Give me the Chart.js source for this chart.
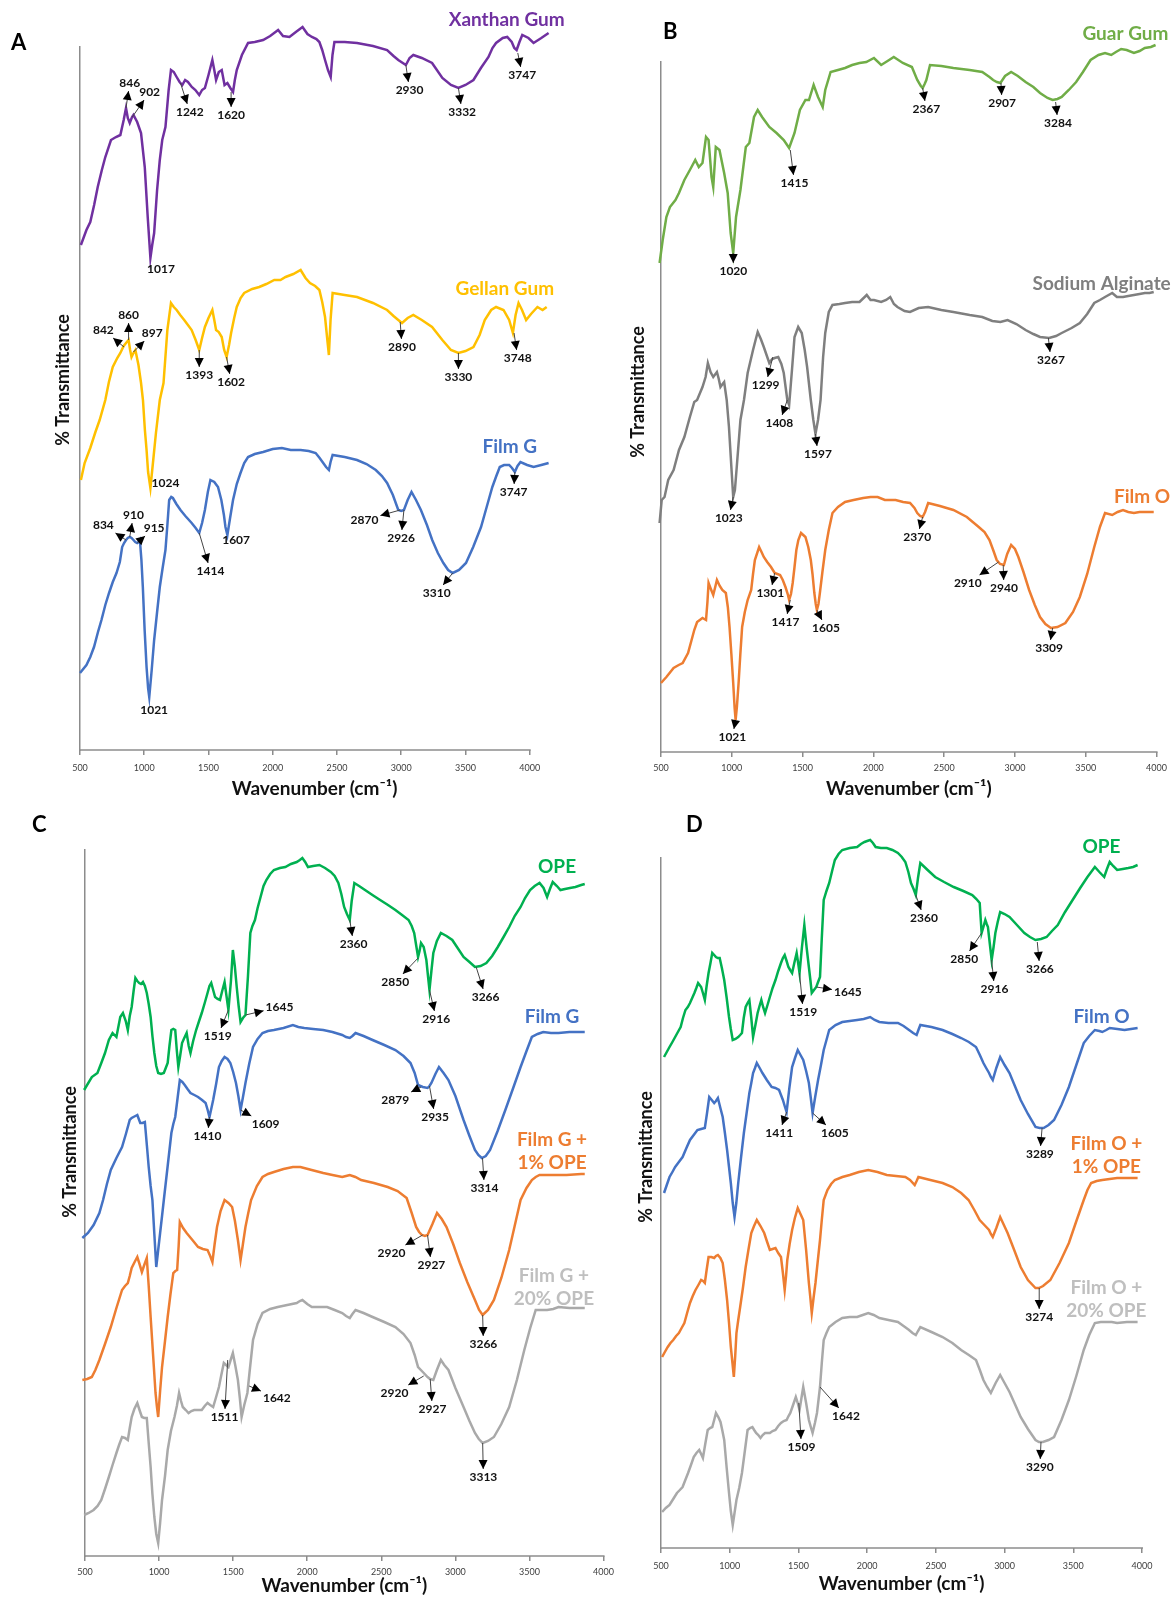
<!DOCTYPE html>
<html>
<head>
<meta charset="utf-8">
<script src="https://cdn.jsdelivr.net/npm/chart.js@4.4.1/dist/chart.umd.min.js"></script>
<style>
  body { margin: 0; background: #fff; }
  #fig { position: relative; width: 1173px; height: 1599px; overflow: hidden; }
  .pan { position: absolute; }
  .tag { position: absolute; font: bold 22px Lato, sans-serif; color: #000; line-height: 22px; }
</style>
</head>
<body>
<div id="fig">
  <div class="pan" style="left:0;top:0"><canvas id="cA" width="590" height="800"></canvas></div>
  <div class="pan" style="left:590px;top:0"><canvas id="cB" width="583" height="800"></canvas></div>
  <div class="pan" style="left:0;top:800px"><canvas id="cC" width="620" height="799"></canvas></div>
  <div class="pan" style="left:620px;top:800px"><canvas id="cD" width="553" height="799"></canvas></div>
  <div class="tag" style="left:11px;top:31px">A</div>
  <div class="tag" style="left:663px;top:20px">B</div>
  <div class="tag" style="left:32px;top:813px">C</div>
  <div class="tag" style="left:686px;top:813px">D</div>
</div>
<script>
// FTIR spectra, stacked; x = wavenumber (cm-1), y = % transmittance (arbitrary offset units)
var xTicks = [500, 1000, 1500, 2000, 2500, 3000, 3500, 4000];

// ---- panel A
var namesA = ['Xanthan Gum', 'Gellan Gum', 'Film G'];
var xanthan = [[507,505],[550,520],[580,528],[610,545],[638,563],[670,580],[697,593],[741,610],[780,613],[814,615],[840,630],[858,642],[872,632],[887,627],[905,633],[916,635],[945,628],[975,617],[1004,583],[1027,533],[1048,492],[1062,505],[1077,517],[1100,560],[1121,590],[1140,610],[1165,623],[1190,660],[1208,680],[1230,678],[1252,673],[1275,668],[1296,665],[1318,670],[1340,668],[1370,663],[1398,660],[1428,655],[1450,660],[1472,662],[1500,675],[1530,690],[1545,680],[1559,670],[1580,678],[1603,680],[1625,665],[1647,667],[1670,662],[1691,658],[1705,670],[1720,680],[1760,695],[1808,707],[1860,708],[1925,710],[1980,714],[2042,720],[2080,714],[2130,713],[2180,718],[2232,723],[2270,716],[2305,713],[2340,711],[2363,708],[2385,700],[2407,690],[2430,680],[2451,673],[2465,695],[2480,708],[2560,708],[2656,707],[2780,704],[2890,700],[2940,694],[2977,690],[3036,685],[3065,692],[3094,695],[3160,692],[3240,687],[3320,672],[3387,665],[3445,662],[3500,665],[3562,670],[3620,682],[3679,693],[3710,702],[3738,707],[3790,712],[3825,713],[3860,708],[3880,702],[3898,700],[3920,708],[3942,715],[3990,712],[4030,707],[4090,712],[4147,717]];
var gellan = [[507,270],[536,287],[580,302],[620,318],[653,330],[697,350],[725,368],[755,383],[790,392],[814,397],[840,404],[858,407],[878,410],[890,400],[901,393],[916,397],[931,400],[955,385],[975,367],[990,350],[1005,320],[1018,300],[1030,278],[1048,262],[1070,290],[1091,317],[1121,350],[1150,367],[1180,420],[1208,447],[1230,443],[1252,440],[1280,435],[1311,430],[1340,425],[1369,420],[1400,410],[1428,400],[1450,412],[1472,423],[1500,432],[1530,440],[1545,430],[1559,420],[1580,418],[1603,413],[1622,400],[1641,393],[1660,405],[1676,417],[1700,432],[1720,443],[1750,452],[1778,457],[1840,461],[1895,463],[1950,466],[2012,470],[2060,470],[2100,473],[2160,476],[2217,480],[2255,472],[2290,467],[2330,464],[2363,460],[2385,448],[2407,433],[2425,410],[2437,395],[2450,430],[2466,457],[2560,455],[2656,453],[2780,447],[2890,440],[2940,434],[2977,430],[3006,427],[3050,432],[3094,435],[3160,430],[3240,423],[3320,410],[3387,400],[3445,397],[3500,399],[3562,403],[3610,415],[3650,430],[3700,440],[3738,443],[3796,440],[3840,430],[3869,417],[3890,435],[3913,447],[3940,440],[3972,430],[4010,436],[4060,443],[4100,440],[4132,443]];
var filmGA = [[500,77],[550,85],[580,93],[609,103],[640,118],[667,130],[697,145],[726,157],[755,168],[784,177],[810,188],[828,203],[843,207],[858,210],[872,212],[887,213],[901,212],[916,210],[930,208],[945,207],[956,208],[966,210],[978,190],[989,163],[1003,120],[1018,83],[1030,62],[1039,53],[1058,80],[1077,110],[1100,138],[1121,163],[1143,182],[1165,200],[1180,225],[1194,250],[1210,253],[1223,252],[1250,246],[1282,240],[1320,234],[1369,227],[1400,222],[1428,217],[1450,227],[1472,240],[1495,258],[1515,270],[1545,268],[1574,263],[1600,250],[1620,235],[1632,223],[1647,215],[1668,232],[1691,250],[1720,266],[1749,277],[1778,287],[1808,293],[1860,296],[1925,298],[2000,301],[2071,302],[2140,300],[2217,300],[2280,299],[2334,297],[2365,292],[2393,287],[2415,283],[2437,280],[2450,288],[2466,295],[2560,293],[2656,290],[2730,286],[2802,280],[2850,274],[2890,267],[2935,255],[2977,240],[3000,239],[3021,240],[3050,250],[3080,258],[3115,250],[3153,240],[3200,225],[3241,210],[3285,197],[3328,187],[3365,180],[3401,177],[3450,180],[3504,187],[3560,203],[3621,223],[3665,243],[3709,263],[3740,274],[3767,283],[3800,285],[3840,285],[3862,282],[3884,278],[3905,284],[3928,288],[3980,285],[4030,283],[4090,285],[4147,287]];

// ---- panel B
var namesB = ['Guar Gum', 'Sodium Alginate', 'Film O'];
var guar = [[490,489],[512,512],[538,535],[563,545],[602,552],[627,559],[665,572],[704,582],[742,592],[767,585],[793,589],[818,615],[836,612],[857,575],[869,565],[887,605],[913,602],[946,579],[971,559],[992,519],[1010,499],[1030,535],[1061,562],[1099,605],[1124,609],[1157,635],[1183,642],[1214,635],[1265,625],[1316,619],[1367,612],[1405,604],[1443,619],[1481,642],[1520,652],[1545,652],[1578,667],[1609,655],[1642,645],[1660,662],[1698,680],[1750,682],[1800,684],[1850,687],[1902,689],[1950,690],[2004,694],[2055,687],[2100,691],[2144,695],[2208,689],[2272,685],[2310,672],[2335,666],[2348,664],[2362,668],[2374,672],[2400,687],[2480,686],[2565,684],[2680,682],[2769,680],[2820,675],[2846,672],[2872,670],[2897,669],[2930,676],[2973,680],[3020,676],[3075,670],[3130,665],[3177,659],[3230,654],[3266,652],[3300,653],[3330,655],[3380,662],[3432,670],[3480,680],[3534,692],[3590,697],[3636,699],[3680,697],[3713,700],[3750,703],[3789,702],[3840,699],[3880,701],[3917,704],[3960,705],[3993,707]];
var alginate = [[490,229],[505,252],[525,255],[551,272],[589,282],[627,302],[665,315],[704,335],[735,350],[755,352],[793,365],[815,375],[831,389],[850,380],[869,375],[895,380],[908,373],[920,365],[935,368],[946,370],[964,352],[980,325],[997,285],[1010,255],[1022,262],[1035,285],[1061,332],[1086,352],[1112,379],[1150,402],[1168,412],[1183,420],[1205,413],[1226,405],[1265,389],[1285,393],[1303,394],[1328,395],[1350,388],[1367,379],[1380,365],[1392,352],[1405,347],[1425,382],[1443,415],[1469,425],[1494,419],[1515,402],[1532,385],[1558,352],[1576,332],[1591,318],[1609,332],[1627,352],[1645,395],[1660,419],[1685,440],[1711,447],[1760,448],[1800,449],[1850,450],[1902,450],[1953,457],[1980,452],[2004,452],[2055,450],[2090,452],[2119,455],[2145,448],[2170,445],[2220,441],[2259,440],[2320,444],[2387,445],[2480,442],[2565,440],[2680,437],[2769,435],[2840,431],[2897,430],[2948,432],[3010,428],[3075,422],[3130,418],[3177,415],[3241,414],[3290,416],[3330,419],[3400,424],[3458,429],[3510,438],[3560,449],[3600,452],[3636,455],[3687,459],[3720,455],[3763,455],[3800,456],[3840,457],[3880,458],[3917,459],[3950,459],[3980,460]];
var filmOB = [[500,69],[538,75],[589,84],[625,87],[653,89],[691,99],[716,112],[735,122],[755,130],[793,134],[818,132],[828,150],[836,169],[852,163],[869,157],[883,165],[895,172],[915,166],[933,162],[958,159],[972,145],[984,125],[997,98],[1010,69],[1020,44],[1027,32],[1036,45],[1048,69],[1060,97],[1073,125],[1092,140],[1112,152],[1137,162],[1150,178],[1163,192],[1193,205],[1210,200],[1226,195],[1250,190],[1277,185],[1303,179],[1341,177],[1360,172],[1379,165],[1395,158],[1405,152],[1418,158],[1430,169],[1443,185],[1456,202],[1470,212],[1489,219],[1520,215],[1540,205],[1558,192],[1570,178],[1583,159],[1593,148],[1601,142],[1612,148],[1622,159],[1640,180],[1660,202],[1685,222],[1711,239],[1750,245],[1800,250],[1860,252],[1928,254],[1980,255],[2030,255],[2081,252],[2120,252],[2157,252],[2210,250],[2259,249],[2290,244],[2310,239],[2330,236],[2348,235],[2365,240],[2387,249],[2470,246],[2565,242],[2660,235],[2744,225],[2785,220],[2820,212],[2846,202],[2871,192],[2895,188],[2922,187],[2945,198],[2973,207],[3000,203],[3024,195],[3060,180],[3100,162],[3140,147],[3177,135],[3215,128],[3254,124],[3300,125],[3356,129],[3410,140],[3458,155],[3510,178],[3560,205],[3600,225],[3636,239],[3687,237],[3725,240],[3763,242],[3800,240],[3840,239],[3880,240],[3917,240],[3950,240],[3980,240]];

// ---- panel C
var namesC = ['OPE', 'Film G', 'Film G +\n1% OPE', 'Film G +\n20% OPE'];
var opeC = [[494,466],[546,479],[584,483],[610,493],[635,503],[661,516],[686,523],[712,519],[738,539],[756,543],[775,535],[789,526],[802,540],[815,549],[828,565],[840,578],[853,575],[866,573],[878,572],[891,574],[904,570],[917,563],[930,552],[943,539],[955,520],[968,503],[981,490],[994,483],[1013,482],[1032,483],[1045,488],[1058,493],[1070,510],[1083,526],[1096,527],[1109,526],[1120,505],[1130,489],[1142,500],[1155,513],[1170,518],[1186,523],[1200,510],[1212,503],[1230,515],[1250,526],[1270,535],[1288,543],[1308,553],[1327,563],[1340,570],[1352,573],[1365,566],[1378,559],[1395,557],[1411,556],[1426,565],[1442,574],[1455,560],[1468,546],[1485,575],[1498,606],[1511,590],[1524,569],[1537,550],[1550,534],[1566,538],[1583,541],[1600,580],[1616,623],[1630,630],[1647,636],[1665,648],[1685,659],[1705,670],[1724,676],[1750,682],[1775,686],[1815,688],[1852,689],[1890,692],[1929,694],[1950,696],[1967,698],[1986,694],[2005,689],[2040,690],[2082,691],[2120,688],[2159,684],[2185,680],[2210,673],[2230,662],[2249,649],[2268,642],[2287,636],[2300,655],[2318,673],[2350,670],[2390,666],[2440,661],[2492,656],[2545,651],[2595,646],[2640,641],[2684,636],[2705,630],[2722,623],[2736,610],[2748,599],[2758,605],[2768,613],[2786,609],[2804,596],[2815,580],[2825,566],[2838,585],[2851,603],[2875,615],[2902,623],[2940,620],[2979,616],[3015,608],[3055,599],[3095,594],[3132,589],[3170,590],[3209,593],[3248,600],[3286,609],[3325,619],[3363,629],[3400,640],[3440,649],[3470,658],[3504,666],[3535,670],[3568,673],[3595,668],[3619,659],[3638,667],[3657,674],[3685,670],[3709,666],[3740,667],[3773,668],[3810,669],[3849,671],[3873,672]];
var filmGC = [[482,318],[520,323],[558,331],[597,343],[622,356],[648,372],[674,386],[712,398],[750,409],[776,422],[802,436],[815,438],[827,439],[840,440],[853,441],[863,437],[873,433],[888,433],[904,434],[918,410],[930,389],[943,370],[955,356],[968,322],[981,289],[994,306],[1007,323],[1020,340],[1032,356],[1058,390],[1083,423],[1096,432],[1109,439],[1125,458],[1140,476],[1157,474],[1173,471],[1192,467],[1212,463],[1238,461],[1263,459],[1290,456],[1314,453],[1328,446],[1340,439],[1352,447],[1365,456],[1385,472],[1404,489],[1423,495],[1442,499],[1462,497],[1481,493],[1500,484],[1519,473],[1535,460],[1550,446],[1565,458],[1583,473],[1608,492],[1634,509],[1665,517],[1698,523],[1735,525],[1775,526],[1840,528],[1903,531],[1940,529],[1980,528],[2040,527],[2108,526],[2170,524],[2236,521],[2262,519],[2287,518],[2305,520],[2326,523],[2380,520],[2441,516],[2520,511],[2595,506],[2650,500],[2697,493],[2725,483],[2748,471],[2780,469],[2812,468],[2825,470],[2838,473],[2865,482],[2889,489],[2920,483],[2953,476],[3000,460],[3055,436],[3095,420],[3132,406],[3155,401],[3178,398],[3205,400],[3234,406],[3285,425],[3337,446],[3390,468],[3440,489],[3480,505],[3516,519],[3555,522],[3593,524],[3645,523],[3696,523],[3770,524],[3849,524],[3873,524]];
var filmG1C = [[482,176],[515,177],[546,179],[570,186],[597,196],[635,212],[674,229],[712,248],[750,266],[770,270],[789,273],[802,280],[815,288],[835,294],[853,299],[868,292],[884,284],[900,291],[917,298],[930,270],[943,239],[960,200],[976,163],[985,150],[994,139],[1007,165],[1020,189],[1040,215],[1058,239],[1077,262],[1096,283],[1110,285],[1122,286],[1132,310],[1140,334],[1162,328],[1186,323],[1225,316],[1263,309],[1295,307],[1327,306],[1345,300],[1360,294],[1375,312],[1391,329],[1415,345],[1442,356],[1468,353],[1493,349],[1512,335],[1532,316],[1542,305],[1550,296],[1566,312],[1583,329],[1602,343],[1621,356],[1660,370],[1698,379],[1735,382],[1775,384],[1840,387],[1903,389],[1954,389],[2030,386],[2108,383],[2170,381],[2236,379],[2262,380],[2287,381],[2325,379],[2364,376],[2450,373],[2543,369],[2610,365],[2671,358],[2705,343],[2735,329],[2755,324],[2774,321],[2794,320],[2812,321],[2845,332],[2876,343],[2908,337],[2940,329],[2985,312],[3030,293],[3080,274],[3132,256],[3160,246],[3184,241],[3220,246],[3260,256],[3310,278],[3363,306],[3400,330],[3440,356],[3480,368],[3516,376],[3542,379],[3568,381],[3605,381],[3644,381],[3750,381],[3849,382],[3873,382]];
var filmG20C = [[494,41],[525,43],[558,46],[585,50],[610,56],[635,67],[661,79],[686,91],[712,103],[730,111],[750,119],[770,118],[789,116],[802,128],[815,139],[833,147],[853,153],[868,146],[884,139],[900,138],[917,138],[930,113],[943,89],[955,62],[968,39],[981,22],[994,13],[1007,33],[1020,56],[1040,80],[1058,106],[1080,125],[1104,139],[1120,150],[1135,163],[1148,155],[1160,149],[1180,146],[1199,143],[1218,145],[1237,146],[1262,146],[1288,146],[1308,150],[1327,153],[1345,151],[1365,149],[1385,159],[1404,169],[1420,181],[1437,193],[1452,191],[1468,189],[1483,196],[1498,203],[1515,190],[1532,176],[1545,158],[1557,139],[1575,151],[1596,163],[1615,190],[1634,216],[1665,232],[1698,243],[1750,247],[1801,249],[1865,251],[1929,253],[1950,255],[1967,256],[2000,252],[2031,249],[2080,249],[2134,249],[2185,246],[2236,243],[2262,240],[2287,238],[2305,242],[2326,246],[2380,243],[2441,239],[2520,234],[2595,229],[2650,222],[2697,213],[2725,201],[2748,189],[2780,184],[2812,179],[2830,177],[2851,176],[2875,186],[2902,196],[2925,191],[2953,186],[3000,168],[3055,149],[3095,135],[3132,123],[3158,117],[3184,113],[3220,115],[3260,119],[3310,132],[3363,149],[3415,176],[3465,206],[3505,228],[3542,246],[3580,246],[3619,246],[3660,247],[3696,249],[3770,248],[3849,248],[3873,248]];

// ---- panel D
var namesD = ['OPE', 'Film O', 'Film O +\n1% OPE', 'Film O +\n20% OPE'];
var opeD = [[522,491],[542,496],[562,501],[583,506],[603,511],[623,516],[643,521],[660,530],[678,538],[695,541],[711,545],[727,550],[743,555],[757,560],[770,565],[781,563],[792,561],[805,555],[819,548],[832,562],[846,575],[860,585],[873,595],[887,593],[900,591],[913,590],[927,590],[943,580],[960,568],[978,550],[995,531],[1008,519],[1022,508],[1042,509],[1062,511],[1076,513],[1089,515],[1102,530],[1116,541],[1130,545],[1143,548],[1157,530],[1170,511],[1187,523],[1203,535],[1217,542],[1230,548],[1243,541],[1257,535],[1275,543],[1292,551],[1312,560],[1333,568],[1353,577],[1373,585],[1387,590],[1400,593],[1414,587],[1427,581],[1440,578],[1454,575],[1470,585],[1487,595],[1498,585],[1508,575],[1525,600],[1543,623],[1560,600],[1576,581],[1587,568],[1597,555],[1613,558],[1630,561],[1643,566],[1657,571],[1670,610],[1684,648],[1704,657],[1724,665],[1745,677],[1765,688],[1792,694],[1819,698],[1873,700],[1927,701],[1955,704],[1981,706],[2000,707],[2022,708],[2042,705],[2062,701],[2100,700],[2143,700],[2184,698],[2224,695],[2252,691],[2278,686],[2300,676],[2319,665],[2338,659],[2354,653],[2370,670],[2387,685],[2440,678],[2495,671],[2560,666],[2630,661],[2700,657],[2765,653],[2795,649],[2819,645],[2826,630],[2833,615],[2846,621],[2860,628],[2870,624],[2879,621],[2892,605],[2906,588],[2920,601],[2933,615],[2950,626],[2968,636],[3000,634],[3036,631],[3090,623],[3144,615],[3185,611],[3225,608],[3265,609],[3306,611],[3345,617],[3387,623],[3440,636],[3495,648],[3550,660],[3603,671],[3630,676],[3657,681],[3690,676],[3725,671],[3745,679],[3765,686],[3790,682],[3819,678],[3860,679],[3900,680],[3935,681],[3968,683]];
var filmOD = [[522,355],[542,363],[562,371],[583,376],[603,381],[630,386],[657,391],[685,400],[711,408],[738,413],[765,418],[792,419],[819,420],[835,435],[851,451],[869,448],[887,445],[900,447],[914,450],[932,440],[949,431],[965,415],[981,398],[995,381],[1008,365],[1022,345],[1035,331],[1048,345],[1062,365],[1082,390],[1103,415],[1123,435],[1143,455],[1157,465],[1170,475],[1184,480],[1197,485],[1218,480],[1238,475],[1270,468],[1305,461],[1332,460],[1359,458],[1373,453],[1387,448],[1400,442],[1414,436],[1434,460],[1454,481],[1475,490],[1495,498],[1515,493],[1535,488],[1556,477],[1576,465],[1590,450],[1603,435],[1623,452],[1643,468],[1664,483],[1684,498],[1704,508],[1724,518],[1770,523],[1819,526],[1873,527],[1927,528],[1975,529],[2022,531],[2055,528],[2089,526],[2155,525],[2224,525],[2265,522],[2305,518],[2335,515],[2360,513],[2373,518],[2387,523],[2468,521],[2549,518],[2620,514],[2684,510],[2740,506],[2792,501],[2820,493],[2846,485],[2866,480],[2887,475],[2900,471],[2914,468],[2940,480],[2968,491],[3000,483],[3036,475],[3075,462],[3117,448],[3170,434],[3225,421],[3255,420],[3284,420],[3320,423],[3360,428],[3414,443],[3468,461],[3522,483],[3576,505],[3616,512],[3657,518],[3690,517],[3711,516],[3740,518],[3765,520],[3820,519],[3873,518],[3920,519],[3968,520]];
var filmO1D = [[508,191],[528,196],[549,201],[569,205],[589,208],[610,212],[630,215],[650,220],[670,225],[690,235],[711,245],[731,252],[751,258],[772,263],[792,268],[806,267],[819,265],[832,278],[846,291],[866,291],[887,290],[900,292],[914,293],[932,290],[949,285],[965,268],[981,248],[995,225],[1008,201],[1020,185],[1030,171],[1040,192],[1049,215],[1062,228],[1076,241],[1096,260],[1116,281],[1136,298],[1157,315],[1177,322],[1197,328],[1224,322],[1251,315],[1270,307],[1292,298],[1312,299],[1333,300],[1353,295],[1373,291],[1387,275],[1400,258],[1410,272],[1419,288],[1436,304],[1454,318],[1474,330],[1495,340],[1515,334],[1535,328],[1556,298],[1576,265],[1587,250],[1597,235],[1610,250],[1624,265],[1640,286],[1657,308],[1670,328],[1684,348],[1711,358],[1738,364],[1765,368],[1820,371],[1873,373],[1940,376],[2008,378],[2075,376],[2143,373],[2210,372],[2278,371],[2312,368],[2346,363],[2360,367],[2373,371],[2460,368],[2549,365],[2620,361],[2684,355],[2738,348],[2780,338],[2819,328],[2853,323],[2887,318],[2900,314],[2914,311],[2940,320],[2968,331],[2995,323],[3022,315],[3070,298],[3117,281],[3170,268],[3225,260],[3250,260],[3280,262],[3333,268],[3400,285],[3468,305],[3520,326],[3576,348],[3603,358],[3630,365],[3670,367],[3711,368],[3765,369],[3819,370],[3890,370],[3968,370]];
var filmO20D = [[508,36],[535,40],[562,43],[589,49],[616,55],[637,58],[657,61],[677,68],[697,75],[718,83],[738,91],[758,95],[778,98],[792,94],[805,90],[822,104],[840,118],[857,120],[873,121],[887,128],[900,135],[917,131],[933,126],[947,117],[960,108],[978,80],[995,55],[1008,37],[1022,23],[1035,35],[1049,48],[1069,60],[1089,75],[1110,97],[1130,118],[1148,120],[1165,121],[1178,118],[1192,115],[1208,113],[1224,110],[1240,113],[1257,115],[1275,115],[1292,115],[1312,117],[1333,118],[1353,122],[1373,125],[1393,127],[1414,128],[1428,132],[1441,135],[1461,143],[1481,151],[1495,145],[1508,138],[1522,150],[1535,161],[1556,145],[1576,128],[1590,121],[1603,115],[1620,125],[1635,135],[1646,148],[1657,161],[1670,185],[1684,208],[1704,215],[1724,221],[1770,226],[1819,230],[1873,231],[1927,231],[1968,233],[2008,235],[2048,233],[2089,230],[2155,228],[2224,226],[2265,222],[2305,218],[2330,215],[2354,213],[2370,217],[2387,221],[2468,216],[2549,211],[2620,205],[2684,198],[2740,193],[2792,188],[2820,178],[2846,168],[2873,161],[2900,155],[2935,165],[2968,173],[3000,165],[3036,156],[3075,144],[3117,131],[3170,119],[3225,108],[3250,106],[3279,106],[3320,108],[3360,111],[3414,128],[3468,148],[3522,172],[3576,198],[3616,213],[3657,225],[3700,226],[3738,226],[3780,226],[3819,225],[3890,226],[3968,226]];

// peak labels: [text, curve x, curve y, text x, text y] (curve x null = plain text)
var peaksA = [['846',858,642,887,667],['902',907,633,1042,658],['1242',1282,667,1355,638],['1620',1676,658,1676,635],['2930',3036,685,3065,660],['3332',3445,662,3474,638],['3747',3907,697,3942,675],['1017',null,null,1130,481],
  ['860',878,410,878,435],['842',843,403,682,420],['897',916,398,1062,417],['1393',1428,400,1428,375],['1602',1641,393,1676,368],['2890',2992,428,3006,403],['3330',3445,397,3445,373],['3748',3878,417,3907,392],['1024',null,null,1165,267],
  ['834',858,210,682,225],['910',887,213,916,235],['915',945,207,1077,222],['1414',1428,217,1515,179],['1607',null,null,1715,210],['2870',2992,240,2714,230],['2926',3021,240,2999,212],['3310',3401,177,3276,157],['3747',3884,278,3875,258],['1021',null,null,1077,40]];
var peaksB = [['1020',1010,499,1011,481],['1415',1413,602,1443,569],['2367',2348,664,2374,643],['2907',2901,669,2909,649],['3284',3287,650,3304,629],
  ['1299',1290,395,1239,367],['1408',1392,352,1336,329],['1597',1591,318,1609,298],['1023',1010,255,979,234],['3267',3236,414,3254,392],
  ['1301',1303,179,1272,159],['1417',1413,152,1379,130],['1605',1601,142,1665,124],['2370',2348,235,2310,215],['2910',2884,190,2667,169],['2940',2917,187,2922,164],['3309',3266,124,3241,104],['1021',1027,32,1004,15]];
var peaksC = [['2360',2287,636,2313,612],['2850',2748,598,2594,574],['2916',2825,566,2871,537],['3266',3140,589,3204,559],['1519',1468,546,1396,520],['1645',1583,541,1813,549],
  ['2879',2768,469,2594,456],['2935',2825,470,2863,439],['3314',3183,398,3196,368],['1410',1340,439,1327,420],['1609',1550,446,1719,432],
  ['2920',2779,321,2569,303],['2927',2812,321,2838,291],['3266',3184,241,3189,212],
  ['2920',2786,180,2589,163],['2927',2830,177,2845,147],['3313',3184,113,3189,79],['1511',1463,196,1442,139],['1642',1608,170,1795,158]];
var peaksD = [['2360',2354,653,2414,630],['2850',2833,615,2706,589],['2916',2906,588,2927,559],['3266',3238,606,3257,579],['1519',1508,575,1535,536],['1645',1630,561,1860,556],
  ['1411',1414,436,1360,415],['1605',1603,435,1765,415],['3289',3273,420,3257,394],
  ['3274',3252,260,3252,231],
  ['1509',1503,145,1522,101],['1642',1657,161,1846,132],['3290',3265,106,3257,81]];

// where each series name sits, in data units
var tagPosA = [[3821,730],[3806,461],[3845,303]];
var tagPosB = [[3780,718],[3612,468],[3898,255]];
var tagPosC = [[3686,689],[3652,539],[3652,405],[3665,269]];
var tagPosD = [[3705,701],[3705,531],[3741,393],[3741,249]];

var lineCol = {
  xanthan: '#7030A0', gellan: '#FFC000', filmG: '#4472C4', guar: '#70AD47',
  alginate: '#7F7F7F', filmO: '#ED7D31', ope: '#00B050', blue: '#4472C4',
  orange: '#ED7D31', grey: '#A9A9A9'
};
var FONT = 'Lato, "Open Sans", sans-serif';

var peakPlugin = {
  id: 'peaks',
  afterDatasetsDraw: function(chart, args, opts) {
    var ctx = chart.ctx, xs = chart.scales.x, ys = chart.scales.y;
    ctx.save();
    // x axis line, stops at 4000 like the original
    ctx.strokeStyle = '#8c8c8c';
    ctx.lineWidth = 1.5;
    ctx.beginPath();
    ctx.moveTo(chart.chartArea.left, chart.chartArea.bottom);
    ctx.lineTo(xs.getPixelForValue(4000) + 1, chart.chartArea.bottom);
    ctx.stroke();

    // y axis title, rotated
    ctx.save();
    ctx.translate(opts.yTitle[0], opts.yTitle[1]);
    ctx.rotate(-Math.PI / 2);
    ctx.font = 'bold 18px ' + FONT;
    ctx.fillStyle = '#111';
    ctx.textAlign = 'center';
    ctx.textBaseline = 'middle';
    ctx.fillText('% Transmittance', 0, 0);
    ctx.restore();

    ctx.font = 'bold 12px ' + FONT;
    ctx.textAlign = 'center';
    ctx.textBaseline = 'middle';
    opts.peaks.forEach(function(p) {
      var tx = xs.getPixelForValue(p[3]), ty = ys.getPixelForValue(p[4]);
      ctx.fillStyle = '#111';
      ctx.fillText(p[0], tx, ty);
      if (p[1] === null) return;
      var px = xs.getPixelForValue(p[1]), py = ys.getPixelForValue(p[2]);
      var dx = px - tx, dy = py - ty;
      var len = Math.hypot(dx, dy);
      dx /= len; dy /= len;
      var hw = ctx.measureText(p[0]).width / 2 + 2, hh = 8;
      var r = Math.min(Math.abs(dx) > 1e-6 ? hw / Math.abs(dx) : 1e9,
                       Math.abs(dy) > 1e-6 ? hh / Math.abs(dy) : 1e9);
      var ex = tx + dx * r, ey = ty + dy * r;
      ctx.strokeStyle = '#444';
      ctx.lineWidth = 1;
      ctx.beginPath();
      ctx.moveTo(px, py);
      ctx.lineTo(ex, ey);
      ctx.stroke();
      // arrow head, pointing from the curve to the label
      var ux = -dx, uy = -dy, hl = 9, w = 4.5;
      ctx.fillStyle = '#000';
      ctx.beginPath();
      ctx.moveTo(ex, ey);
      ctx.lineTo(ex - ux * hl - uy * w, ey - uy * hl + ux * w);
      ctx.lineTo(ex - ux * hl + uy * w, ey - uy * hl - ux * w);
      ctx.closePath();
      ctx.fill();
    });

    // series names
    ctx.font = 'bold 19px ' + FONT;
    opts.tags.forEach(function(t, i) {
      var lines = opts.names[i].split('\n');
      var x = xs.getPixelForValue(t[0]), y = ys.getPixelForValue(t[1]);
      ctx.fillStyle = opts.tagColors[i];
      lines.forEach(function(s, k) {
        ctx.fillText(s, x, y + (k - (lines.length - 1) / 2) * 23);
      });
    });
    ctx.restore();
  }
};

function pts(arr) {
  return arr.map(function(p) { return {x: p[0], y: p[1]}; });
}

function makePanel(id, cfg) {
  var datasets = cfg.series.map(function(s, i) {
    return {
      label: cfg.names[i],
      data: pts(s),
      borderColor: cfg.colors[i],
      borderWidth: 2.5,
      pointRadius: 0,
      tension: 0,
      clip: false
    };
  });
  new Chart(document.getElementById(id), {
    type: 'line',
    data: {datasets: datasets},
    options: {
      responsive: false,
      animation: false,
      events: [],
      layout: {padding: {left: 0, top: cfg.top, right: cfg.right, bottom: 0}},
      plugins: {
        legend: {display: false},
        tooltip: {enabled: false},
        peaks: {peaks: cfg.peaks, tags: cfg.tags, names: cfg.names, tagColors: cfg.tagColors, yTitle: cfg.yTitle}
      },
      scales: {
        x: {
          type: 'linear',
          min: 500,
          max: cfg.xmax,
          afterBuildTicks: function(s) { s.ticks = xTicks.map(function(v) { return {value: v}; }); },
          afterFit: function(s) { s.height = cfg.xh; },
          border: {display: false},
          grid: {drawOnChartArea: false, drawTicks: true, tickLength: 5, color: '#8c8c8c', lineWidth: 1.5},
          ticks: {
            autoSkip: false, maxRotation: 0, padding: cfg.tickPad, color: '#404040',
            font: {family: FONT, size: 9},
            callback: function(v) { return String(v); }
          },
          title: {
            display: true, text: 'Wavenumber (cm\u207B\u00B9)', color: '#111',
            font: {family: FONT, size: 19, weight: 'bold'},
            padding: {top: 0, bottom: cfg.xtPad}
          }
        },
        y: {
          min: 0,
          max: cfg.ymax,
          afterFit: function(s) { s.width = cfg.yw; },
          grid: {display: false},
          border: {display: true, color: '#8c8c8c', width: 1.5},
          ticks: {display: false},
          title: {display: false}
        }
      }
    },
    plugins: [peakPlugin]
  });
}

makePanel('cA', {
  series: [xanthan, gellan, filmGA], names: namesA,
  colors: [lineCol.xanthan, lineCol.gellan, lineCol.filmG],
  tagColors: [lineCol.xanthan, lineCol.gellan, lineCol.filmG],
  peaks: peaksA, tags: tagPosA, yTitle: [63, 380],
  xmax: 4150, ymax: 703, top: 47, right: 41, yw: 80, xh: 50, tickPad: 8, xtPad: 0
});
makePanel('cB', {
  series: [guar, alginate, filmOB], names: namesB,
  colors: [lineCol.guar, lineCol.alginate, lineCol.filmO],
  tagColors: [lineCol.guar, lineCol.alginate, lineCol.filmO],
  peaks: peaksB, tags: tagPosB, yTitle: [48, 392],
  xmax: 4000, ymax: 690, top: 62, right: 11, yw: 71, xh: 48, tickPad: 6, xtPad: 0
});
makePanel('cC', {
  series: [opeC, filmGC, filmG1C, filmG20C], names: namesC,
  colors: [lineCol.ope, lineCol.blue, lineCol.orange, lineCol.grey],
  tagColors: [lineCol.ope, lineCol.blue, lineCol.orange, '#BFBFBF'],
  peaks: peaksC, tags: tagPosC, yTitle: [70, 352],
  xmax: 4000, ymax: 706, top: 50, right: 12, yw: 85, xh: 43, tickPad: 6, xtPad: 2
});
makePanel('cD', {
  series: [opeD, filmOD, filmO1D, filmO20D], names: namesD,
  colors: [lineCol.ope, lineCol.blue, lineCol.orange, lineCol.grey],
  tagColors: [lineCol.ope, lineCol.blue, lineCol.orange, '#BFBFBF'],
  peaks: peaksD, tags: tagPosD, yTitle: [26, 357],
  xmax: 4000, ymax: 690, top: 58, right: 31, yw: 41, xh: 51, tickPad: 8, xtPad: 4
});
</script>
</body>
</html>
